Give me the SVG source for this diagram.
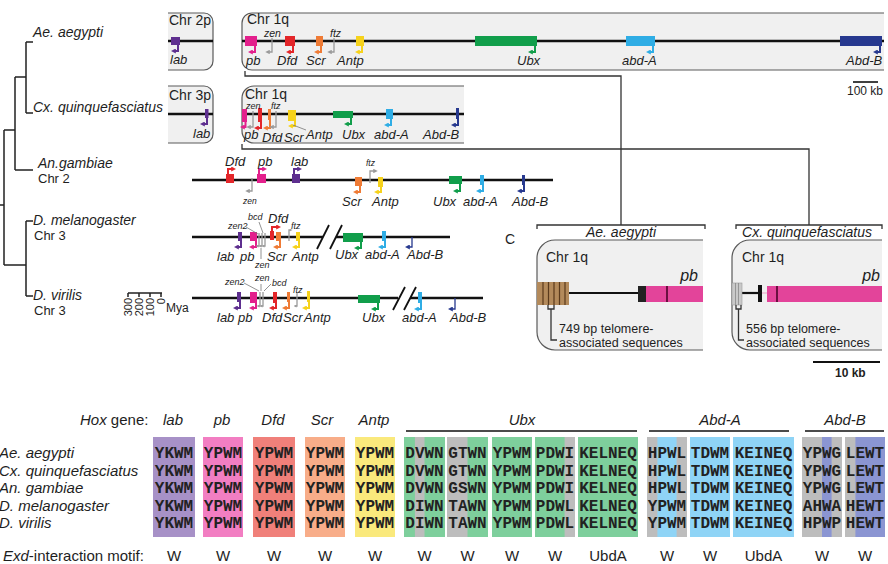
<svg xmlns="http://www.w3.org/2000/svg" width="888" height="564" viewBox="0 0 888 564">
<style>
text{font-family:"Liberation Sans",Arial,sans-serif;fill:#1e1e1e}
.sp{font-size:14px;font-style:italic}
.cl{font-size:14px}
.c13{font-size:13px}
.c12{font-size:12.5px}
.g{font-size:13px;font-style:italic}
.s11{font-size:10.5px;font-style:italic}
.s9{font-size:9px;font-style:italic}
.s8{font-size:8.5px;font-style:italic}
.chr{stroke:#111;stroke-width:2.6;fill:none}
.bf{fill:#f0f0f0}
.bl{fill:none;stroke:#5a5a5a;stroke-width:1.2}
.tree{stroke:#222;stroke-width:1.5;fill:none}
.cn{stroke:#333;stroke-width:1.3;fill:none}
.ld{stroke:#777;stroke-width:0.8;fill:none}
.ar{fill:none;stroke-width:2}
.th{fill:none;stroke-width:1.3}
.f-lab{fill:#5e2f8f}.f-pb{fill:#e3208c}.f-dfd{fill:#e3262a}.f-scr{fill:#ef7b35}.f-antp{fill:#f6d21c}.f-ubx{fill:#119e4b}.f-abda{fill:#2fade5}.f-abdb{fill:#27398f}
.a-lab{stroke:#5e2f8f;marker-end:url(#mlab)}
.a-pb{stroke:#e3208c;marker-end:url(#mpb)}
.a-dfd{stroke:#e3262a;marker-end:url(#mdfd)}
.a-scr{stroke:#ef7b35;marker-end:url(#mscr)}
.a-antp{stroke:#f6d21c;marker-end:url(#mantp)}
.a-ubx{stroke:#119e4b;marker-end:url(#mubx)}
.a-abda{stroke:#2fade5;marker-end:url(#mabda)}
.a-abdb{stroke:#27398f;marker-end:url(#mabdb)}
.a-gr{stroke:#9a9a9a;marker-end:url(#mgr)}
.a-gs{stroke:#9a9a9a;marker-end:url(#mgs)}
.seq{font-family:"Liberation Mono","Courier New",monospace;font-weight:bold;font-size:16px;fill:#222;text-anchor:middle}
.hd{font-size:15px;font-style:italic;text-anchor:middle}
.sl{font-size:15px;font-style:italic}
.mo{font-size:15px;text-anchor:middle}
.ol{stroke:#111;stroke-width:1.6}
</style>
<defs>
<marker id="mlab" viewBox="0 0 6 6" refX="1" refY="3" markerWidth="5" markerHeight="5" markerUnits="userSpaceOnUse" orient="auto"><path d="M0,0 L6,3 L0,6z" fill="#5e2f8f"/></marker>
<marker id="mpb" viewBox="0 0 6 6" refX="1" refY="3" markerWidth="5" markerHeight="5" markerUnits="userSpaceOnUse" orient="auto"><path d="M0,0 L6,3 L0,6z" fill="#e3208c"/></marker>
<marker id="mdfd" viewBox="0 0 6 6" refX="1" refY="3" markerWidth="5" markerHeight="5" markerUnits="userSpaceOnUse" orient="auto"><path d="M0,0 L6,3 L0,6z" fill="#e3262a"/></marker>
<marker id="mscr" viewBox="0 0 6 6" refX="1" refY="3" markerWidth="5" markerHeight="5" markerUnits="userSpaceOnUse" orient="auto"><path d="M0,0 L6,3 L0,6z" fill="#ef7b35"/></marker>
<marker id="mantp" viewBox="0 0 6 6" refX="1" refY="3" markerWidth="5" markerHeight="5" markerUnits="userSpaceOnUse" orient="auto"><path d="M0,0 L6,3 L0,6z" fill="#f6d21c"/></marker>
<marker id="mubx" viewBox="0 0 6 6" refX="1" refY="3" markerWidth="5" markerHeight="5" markerUnits="userSpaceOnUse" orient="auto"><path d="M0,0 L6,3 L0,6z" fill="#119e4b"/></marker>
<marker id="mabda" viewBox="0 0 6 6" refX="1" refY="3" markerWidth="5" markerHeight="5" markerUnits="userSpaceOnUse" orient="auto"><path d="M0,0 L6,3 L0,6z" fill="#2fade5"/></marker>
<marker id="mabdb" viewBox="0 0 6 6" refX="1" refY="3" markerWidth="5" markerHeight="5" markerUnits="userSpaceOnUse" orient="auto"><path d="M0,0 L6,3 L0,6z" fill="#27398f"/></marker>
<marker id="mgr" viewBox="0 0 6 6" refX="1" refY="3" markerWidth="4.5" markerHeight="4.5" markerUnits="userSpaceOnUse" orient="auto"><path d="M0,0 L6,3 L0,6z" fill="#9a9a9a"/></marker>
<marker id="mgs" viewBox="0 0 6 6" refX="1" refY="3" markerWidth="3" markerHeight="3" markerUnits="userSpaceOnUse" orient="auto"><path d="M0,0 L6,3 L0,6z" fill="#9a9a9a"/></marker>
</defs>

<!-- phylogeny -->
<g id="tree">
<path class="tree" d="M-1,205 H4 M4,130 V265 M4,130 H15 M15,77 V170 M15,77 H26 M26,42 V113 M26,42 H33 M26,113 H33 M15,170 H33 M4,265 H26 M26,221 V296 M26,221 H33 M26,296 H33"/>
<text class="sp" x="33" y="37">Ae. aegypti</text>
<text class="sp" x="33" y="112">Cx. quinquefasciatus</text>
<text class="sp" x="38" y="168">An.gambiae</text>
<text class="c13" x="38" y="183">Chr 2</text>
<text class="sp" x="33" y="225">D. melanogaster</text>
<text class="c13" x="34" y="240">Chr 3</text>
<text class="sp" x="33" y="300">D. virilis</text>
<text class="c13" x="34" y="315">Chr 3</text>
</g>
<g id="mya-scale">
<path class="tree" stroke-width="1.2" d="M128,293 H162 M128,293 V297 M139,293 V297 M150,293 V297 M161,293 V297"/>
<text font-size="11" text-anchor="end" transform="translate(132,298) rotate(-90)">300</text>
<text font-size="11" text-anchor="end" transform="translate(143,298) rotate(-90)">200</text>
<text font-size="11" text-anchor="end" transform="translate(154,298) rotate(-90)">100</text>
<text font-size="11" text-anchor="end" transform="translate(165,298) rotate(-90)">0</text>
<text font-size="12" x="166" y="312">Mya</text>
</g>

<!-- connectors -->
<g id="connectors">
<path class="cn" d="M245,71 V76 H621 V225"/>
<path class="cn" d="M242,144 V149 H809 V225"/>
<path class="cn" d="M537,229 V225 H705 V229"/>
<path class="cn" d="M736,229 V225 H882 V229"/>
</g>

<!-- Ae. aegypti -->
<g id="ae-chr2p">
<path class="bf" d="M168,13 H204 A9,9 0 0 1 213,22 V61 A9,9 0 0 1 204,70 H168 Z"/>
<path class="bl" d="M168,13 H204 A9,9 0 0 1 213,22 V61 A9,9 0 0 1 204,70 H168"/>
<text class="cl" x="169" y="25">Chr 2p</text>
<line class="chr" x1="168" y1="41" x2="213" y2="41"/>
<rect class="f-lab" x="171" y="37" width="9" height="8"/>
<path class="ar a-lab" d="M178,45 V51 H175"/>
<text class="g" x="170" y="64">lab</text>
</g>
<g id="ae-chr1q">
<path class="bf" d="M884,13 H252 A10,10 0 0 0 242,23 V60 A10,10 0 0 0 252,70 H884 Z"/>
<path class="bl" d="M884,13 H252 A10,10 0 0 0 242,23 V60 A10,10 0 0 0 252,70 H884"/>
<text class="cl" x="247" y="24">Chr 1q</text>
<line class="chr" x1="242" y1="41" x2="884" y2="41"/>
<rect class="f-pb" x="245" y="36" width="12" height="10"/>
<rect class="f-dfd" x="285" y="36" width="10" height="10"/>
<rect class="f-scr" x="316" y="36" width="7" height="10"/>
<rect class="f-antp" x="356" y="36" width="8" height="10"/>
<rect class="f-ubx" x="475" y="36" width="62" height="10"/>
<rect class="f-abda" x="626" y="36" width="29" height="10"/>
<rect class="f-abdb" x="840" y="36" width="42" height="10"/>
<path class="ar a-pb" d="M255,46 V52 H252"/>
<path class="th a-gr" d="M272,38 V52 H269"/>
<path class="ar a-dfd" d="M293,46 V52 H290"/>
<path class="ar a-scr" d="M321,46 V52 H318"/>
<path class="th a-gr" d="M334,38 V52 H331"/>
<path class="ar a-antp" d="M362,46 V52 H359"/>
<path class="ar a-ubx" d="M535,46 V52 H532"/>
<path class="ar a-abda" d="M653,46 V52 H650"/>
<path class="ar a-abdb" d="M880,46 V52 H877"/>
<text class="s11" x="264" y="36.5">zen</text>
<text class="s11" x="330" y="36.5">ftz</text>
<text class="g" x="246" y="65">pb</text>
<text class="g" x="277" y="65">Dfd</text>
<text class="g" x="306" y="65">Scr</text>
<text class="g" x="337" y="65">Antp</text>
<text class="g" x="517" y="65">Ubx</text>
<text class="g" x="622" y="65">abd-A</text>
<text class="g" x="846" y="65">Abd-B</text>
<line x1="853" y1="82" x2="878" y2="82" stroke="#111" stroke-width="1.6"/>
<text font-size="12" x="847" y="95">100 kb</text>
</g>

<!-- Cx. quinquefasciatus -->
<g id="cx-chr3p">
<path class="bf" d="M168,86 H204 A9,9 0 0 1 213,95 V134 A9,9 0 0 1 204,143 H168 Z"/>
<path class="bl" d="M168,86 H204 A9,9 0 0 1 213,95 V134 A9,9 0 0 1 204,143 H168"/>
<text class="cl" x="169" y="100">Chr 3p</text>
<line class="chr" x1="168" y1="114" x2="213" y2="114"/>
<rect class="f-lab" x="205" y="109" width="3.5" height="9"/>
<path class="ar a-lab" d="M207,118 V124 H204"/>
<text class="g" x="193" y="138">lab</text>
</g>
<g id="cx-chr1q">
<path class="bf" d="M464,86 H254 A12,12 0 0 0 242,98 V131 A12,12 0 0 0 254,143 H464 Z"/>
<path class="bl" d="M464,86 H254 A12,12 0 0 0 242,98 V131 A12,12 0 0 0 254,143 H464"/>
<text class="cl" x="245" y="98.5" font-size="13.5">Chr 1q</text>
<line class="chr" x1="242" y1="114" x2="464" y2="114"/>
<rect class="f-pb" x="242" y="109" width="5" height="13"/>
<rect class="f-dfd" x="258" y="108" width="4" height="14"/>
<rect class="f-scr" x="268" y="109" width="3" height="11"/>
<rect class="f-antp" x="288" y="110" width="8" height="11"/>
<rect class="f-ubx" x="333" y="111" width="20" height="7"/>
<rect class="f-abda" x="386" y="109" width="7" height="10"/>
<rect class="f-abdb" x="456" y="108" width="3" height="11"/>
<path class="ar a-pb" d="M245.5,122 V127 H244"/>
<path class="th a-gr" d="M253,111 V127 H250"/>
<path class="ar a-dfd" d="M261,122 V128 H258"/>
<path class="ar a-scr" d="M270,120 V128 H267"/>
<path class="th a-gr" d="M276,111 V127 H273"/>
<path class="ar a-antp" d="M295,121 V126 H292"/>
<path class="ld" d="M293,125 L306,130"/>
<path class="ar a-ubx" d="M351,118 V124 H348"/>
<path class="ar a-abda" d="M391,119 V125 H388"/>
<path class="ar a-abdb" d="M458,119 V125 H455"/>
<text class="s9" x="246" y="109">zen</text>
<text class="s9" x="271" y="109">ftz</text>
<text class="g" x="244" y="139">pb</text>
<text class="g" x="262" y="142">Dfd</text>
<text class="g" x="284" y="142">Scr</text>
<text class="g" x="306" y="139">Antp</text>
<text class="g" x="342" y="139">Ubx</text>
<text class="g" x="374" y="139">abd-A</text>
<text class="g" x="423" y="139">Abd-B</text>
</g>

<!-- An. gambiae -->
<g id="an-chr2">
<line class="chr" x1="192" y1="180" x2="553" y2="180"/>
<rect class="f-dfd" x="226" y="174" width="8" height="9"/>
<rect class="f-pb" x="257" y="174" width="9" height="9"/>
<rect class="f-lab" x="292" y="174" width="8" height="9"/>
<rect class="f-scr" x="355" y="177" width="7" height="9"/>
<rect class="f-antp" x="378" y="177" width="5" height="10"/>
<rect class="f-ubx" x="449" y="176" width="13" height="8"/>
<rect class="f-abda" x="480" y="175" width="4" height="10"/>
<rect class="f-abdb" x="522" y="175" width="3" height="10"/>
<path class="ar a-dfd" d="M228,174 V169 H232"/>
<path class="th a-gr" d="M252,178 V191 H249"/>
<path class="ar a-pb" d="M259,174 V169 H263"/>
<path class="ar a-lab" d="M294,174 V169 H298"/>
<path class="ar a-scr" d="M360,186 V192 H357"/>
<path class="th a-gr" d="M370,183 V171 H374"/>
<path class="ar a-antp" d="M381,187 V192 H378"/>
<path class="ar a-ubx" d="M460,184 V191 H457"/>
<path class="ar a-abda" d="M483,185 V191 H480"/>
<path class="ar a-abdb" d="M524,185 V191 H521"/>
<text class="g" x="225" y="166">Dfd</text>
<text class="g" x="258" y="166">pb</text>
<text class="g" x="291" y="166">lab</text>
<text class="s8" x="243" y="204">zen</text>
<text class="s8" x="366" y="166">ftz</text>
<text class="g" x="342" y="206">Scr</text>
<text class="g" x="372" y="206">Antp</text>
<text class="g" x="433" y="206">Ubx</text>
<text class="g" x="463" y="206">abd-A</text>
<text class="g" x="512" y="206">Abd-B</text>
</g>

<!-- D. melanogaster -->
<g id="dmel-chr3">
<path class="chr" d="M192,237 H323 M336,237 H450"/>
<path stroke="#111" stroke-width="1.8" fill="none" d="M317,249 L329,225 M330,249 L342,225"/>
<rect class="f-lab" x="238" y="232" width="4" height="9"/>
<rect class="f-pb" x="250" y="232" width="7" height="9"/>
<rect class="f-dfd" x="270" y="231" width="4" height="9"/>
<rect class="f-scr" x="276" y="232" width="5" height="9"/>
<rect class="f-antp" x="296" y="232" width="4" height="9"/>
<rect class="f-ubx" x="343" y="233" width="20" height="9"/>
<rect class="f-abda" x="382" y="231" width="4" height="10"/>
<path class="ar a-lab" d="M241,241 V247 H238"/>
<path class="ar a-pb" d="M256,241 V247 H253"/>
<path class="th a-gs" stroke-width="1" d="M259,233 V246 H258"/>
<path class="th a-gs" stroke-width="1" d="M262,233 V246 H261"/>
<path class="th a-gs" stroke-width="1" d="M265,233 V246 H264"/>
<path class="ar a-dfd" d="M272,231 V227 H277"/>
<path class="ar a-scr" d="M280,241 V247 H277"/>
<path class="th a-gs" stroke-width="1" d="M289,241 V230 H290"/>
<path class="ar a-antp" d="M299,241 V247 H296"/>
<path class="ar a-ubx" d="M361,242 V248 H358"/>
<path class="ar a-abda" d="M385,241 V247 H382"/>
<path class="th a-abdb" stroke-width="1.5" d="M412,237 V247 H409"/>
<path class="ld" d="M246,227 L258,234 M259,222 L263,233 M261,259 V248"/>
<text class="s9" x="228" y="229">zen2</text>
<text class="s9" x="248" y="220">bcd</text>
<text class="s9" x="255" y="268">zen</text>
<text class="s9" x="291" y="229">ftz</text>
<text class="g" x="268" y="223">Dfd</text>
<text class="g" x="217" y="261">lab</text>
<text class="g" x="240" y="261">pb</text>
<text class="g" x="267" y="261">Scr</text>
<text class="g" x="292" y="261">Antp</text>
<text class="g" x="335" y="259">Ubx</text>
<text class="g" x="365" y="259">abd-A</text>
<text class="g" x="407" y="259">Abd-B</text>
</g>

<!-- D. virilis -->
<g id="dvir-chr3">
<path class="chr" d="M192,298 H398 M410,298 H483"/>
<path stroke="#111" stroke-width="1.8" fill="none" d="M393,310 L405,287 M404,310 L416,287"/>
<rect class="f-lab" x="237" y="292" width="4" height="10"/>
<rect class="f-pb" x="250" y="292" width="7" height="11"/>
<rect class="f-dfd" x="273" y="292" width="4" height="11"/>
<rect class="f-scr" x="287" y="292" width="3" height="10"/>
<rect class="f-antp" x="307" y="291" width="3" height="11"/>
<rect class="f-ubx" x="358" y="295" width="22" height="8"/>
<rect class="f-abda" x="418" y="292" width="4" height="11"/>
<path class="ar a-lab" d="M240,302 V308 H237"/>
<path class="ar a-pb" d="M256,303 V308 H253"/>
<path class="th a-gs" stroke-width="1" d="M260,292 V306 H259"/>
<path class="th a-gs" stroke-width="1" d="M263,292 V306 H262"/>
<path class="ar a-dfd" d="M276,303 V308 H273"/>
<path class="ar a-scr" d="M289,302 V308 H286"/>
<path class="th a-gs" stroke-width="1" d="M297,292 V306 H296"/>
<path class="ar a-antp" d="M309,302 V308 H306"/>
<path class="ar a-ubx" d="M378,303 V309 H375"/>
<path class="ar a-abda" d="M421,303 V309 H418"/>
<path class="th a-abdb" stroke-width="1.5" d="M455,298 V309 H452"/>
<path class="ld" d="M244,283 L259,291 M261,284 L261,291 M271,284 L264,291"/>
<text class="s9" x="225" y="285">zen2</text>
<text class="s9" x="255" y="281">zen</text>
<text class="s9" x="272" y="286">bcd</text>
<text class="s9" x="293" y="293">ftz</text>
<text class="g" x="217" y="322">lab</text>
<text class="g" x="238" y="322">pb</text>
<text class="g" x="262" y="322">Dfd</text>
<text class="g" x="283" y="322">Scr</text>
<text class="g" x="304" y="322">Antp</text>
<text class="g" x="362" y="322">Ubx</text>
<text class="g" x="402" y="322">abd-A</text>
<text class="g" x="450" y="322">Abd-B</text>
</g>

<!-- Panel C -->
<text font-size="14" x="505" y="244">C</text>
<g id="c-ae">
<text class="sp" x="621" y="237" text-anchor="middle">Ae. aegypti</text>
<path class="bf" d="M703,240 H555 A18,18 0 0 0 537,258 V332 A18,18 0 0 0 555,350 H703 Z"/>
<path class="bl" d="M703,240 H555 A18,18 0 0 0 537,258 V332 A18,18 0 0 0 555,350 H703"/>
<text class="cl" x="546" y="262">Chr 1q</text>
<text x="698" y="281" font-size="16" font-style="italic" text-anchor="end">pb</text>
<line x1="569" y1="293" x2="639" y2="293" stroke="#111" stroke-width="2.2"/>
<rect x="537" y="282" width="32" height="23" fill="#b38a5b"/>
<path stroke="#5a3a1c" stroke-width="1.2" d="M543,282 V305 M548.5,282 V305 M554,282 V305 M559.5,282 V305 M565,282 V305"/>
<rect x="638" y="286" width="8" height="16" fill="#222"/>
<rect x="646" y="286" width="57" height="16" fill="#e3449a"/>
<line x1="667" y1="286" x2="667" y2="302" stroke="#6a1040" stroke-width="2"/>
<path class="cn" stroke-width="1" d="M548,305 V309 H554 V305 M551,309 V340 H557"/>
<text class="c12" x="559" y="332.5">749 bp telomere-</text>
<text class="c12" x="559" y="347">associated sequences</text>
</g>
<g id="c-cx">
<text class="sp" x="807" y="237" text-anchor="middle">Cx. quinquefasciatus</text>
<path class="bf" d="M882,240 H750 A18,18 0 0 0 732,258 V332 A18,18 0 0 0 750,350 H882 Z"/>
<path class="bl" d="M882,240 H750 A18,18 0 0 0 732,258 V332 A18,18 0 0 0 750,350 H882"/>
<text class="cl" x="742" y="262">Chr 1q</text>
<text x="880" y="281" font-size="16" font-style="italic" text-anchor="end">pb</text>
<line x1="742" y1="293" x2="759" y2="293" stroke="#111" stroke-width="2.2"/>
<line x1="762" y1="293" x2="767" y2="293" stroke="#e9a0c6" stroke-width="1"/>
<rect x="732" y="283" width="10" height="22" fill="#c9c9c9" stroke="#999" stroke-width="0.6"/>
<path stroke="#888" stroke-width="0.8" d="M735.5,283 V305 M738.5,283 V305"/>
<rect x="758" y="285" width="4" height="17" fill="#111"/>
<rect x="767" y="286" width="115" height="16" fill="#e3449a"/>
<line x1="777" y1="286" x2="777" y2="302" stroke="#6a1040" stroke-width="2"/>
<path class="cn" stroke-width="1" d="M736,305 V309 H741 V305 M738.5,309 V340 H744"/>
<text class="c12" x="746" y="332.5">556 bp telomere-</text>
<text class="c12" x="746" y="347">associated sequences</text>
<line x1="813" y1="362" x2="880" y2="362" stroke="#111" stroke-width="2"/>
<text font-size="12" font-weight="bold" x="835" y="377">10 kb</text>
</g>

<!-- Alignment -->
<g id="alignment">
<text x="80" y="425" font-size="15"><tspan font-style="italic">Hox</tspan> gene:</text>
<text class="hd" x="173" y="425">lab</text>
<text class="hd" x="222" y="425">pb</text>
<text class="hd" x="273" y="425">Dfd</text>
<text class="hd" x="322" y="425">Scr</text>
<text class="hd" x="374" y="425">Antp</text>
<text class="hd" x="522" y="425">Ubx</text>
<text class="hd" x="720" y="425">Abd-A</text>
<text class="hd" x="845" y="425">Abd-B</text>
<path class="ol" d="M406,431 H637 M649,431 H789 M805,431 H884"/>

<rect x="153" y="437" width="42" height="100" fill="#a791c7"/>
<rect x="203" y="437" width="40" height="100" fill="#f27ec2"/>
<rect x="253" y="437" width="42" height="100" fill="#f0807a"/>
<rect x="305" y="437" width="40" height="100" fill="#f8ad89"/>
<rect x="355" y="437" width="40" height="100" fill="#fae97c"/>
<rect x="404" y="437" width="41" height="100" fill="#7ecf9c"/>
<rect x="447" y="437" width="41" height="100" fill="#7ecf9c"/>
<rect x="492" y="437" width="40" height="100" fill="#7ecf9c"/>
<rect x="535" y="437" width="40" height="100" fill="#7ecf9c"/>
<rect x="578" y="437" width="60" height="100" fill="#7ecf9c"/>
<rect x="647" y="437" width="40" height="100" fill="#8fd4f6"/>
<rect x="690" y="437" width="40" height="100" fill="#8fd4f6"/>
<rect x="733" y="437" width="61" height="100" fill="#8fd4f6"/>
<rect x="802" y="437" width="40" height="100" fill="#8b95d2"/>
<rect x="845" y="437" width="40" height="100" fill="#8b95d2"/>
<g fill="#bdbdbd">
<rect x="414.9" y="437" width="9.6" height="100"/>
<rect x="447" y="437" width="20.5" height="100"/>
<rect x="564.6" y="437" width="10.4" height="100"/>
<rect x="647" y="437" width="10.4" height="100"/>
<rect x="676.6" y="437" width="10.4" height="100"/>
<rect x="802" y="437" width="20" height="100"/>
<rect x="831.6" y="437" width="10.4" height="100"/>
<rect x="845" y="437" width="10.4" height="100"/>
</g>

<text class="sl" x="-1" y="458">Ae. aegypti</text>
<text class="sl" x="-1" y="475.5">Cx. quinquefasciatus</text>
<text class="sl" x="-1" y="493">An. gambiae</text>
<text class="sl" x="-1" y="510.5">D. melanogaster</text>
<text class="sl" x="-1" y="528">D. virilis</text>

<g class="seq">
<text class="seq" x="174" y="458">YKWM</text><text class="seq" x="174" y="475.5">YKWM</text><text class="seq" x="174" y="493">YKWM</text><text class="seq" x="174" y="510.5">YKWM</text><text class="seq" x="174" y="528">YKWM</text>
<text class="seq" x="223" y="458">YPWM</text><text class="seq" x="223" y="475.5">YPWM</text><text class="seq" x="223" y="493">YPWM</text><text class="seq" x="223" y="510.5">YPWM</text><text class="seq" x="223" y="528">YPWM</text>
<text class="seq" x="274" y="458">YPWM</text><text class="seq" x="274" y="475.5">YPWM</text><text class="seq" x="274" y="493">YPWM</text><text class="seq" x="274" y="510.5">YPWM</text><text class="seq" x="274" y="528">YPWM</text>
<text class="seq" x="325" y="458">YPWM</text><text class="seq" x="325" y="475.5">YPWM</text><text class="seq" x="325" y="493">YPWM</text><text class="seq" x="325" y="510.5">YPWM</text><text class="seq" x="325" y="528">YPWM</text>
<text class="seq" x="375" y="458">YPWM</text><text class="seq" x="375" y="475.5">YPWM</text><text class="seq" x="375" y="493">YPWM</text><text class="seq" x="375" y="510.5">YPWM</text><text class="seq" x="375" y="528">YPWM</text>
<text class="seq" x="424.5" y="458">DVWN</text><text class="seq" x="424.5" y="475.5">DVWN</text><text class="seq" x="424.5" y="493">DVWN</text><text class="seq" x="424.5" y="510.5">DIWN</text><text class="seq" x="424.5" y="528">DIWN</text>
<text class="seq" x="467.5" y="458">GTWN</text><text class="seq" x="467.5" y="475.5">GTWN</text><text class="seq" x="467.5" y="493">GSWN</text><text class="seq" x="467.5" y="510.5">TAWN</text><text class="seq" x="467.5" y="528">TAWN</text>
<text class="seq" x="512" y="458">YPWM</text><text class="seq" x="512" y="475.5">YPWM</text><text class="seq" x="512" y="493">YPWM</text><text class="seq" x="512" y="510.5">YPWM</text><text class="seq" x="512" y="528">YPWM</text>
<text class="seq" x="555" y="458">PDWI</text><text class="seq" x="555" y="475.5">PDWI</text><text class="seq" x="555" y="493">PDWI</text><text class="seq" x="555" y="510.5">PDWL</text><text class="seq" x="555" y="528">PDWL</text>
<text class="seq" x="608" y="458">KELNEQ</text><text class="seq" x="608" y="475.5">KELNEQ</text><text class="seq" x="608" y="493">KELNEQ</text><text class="seq" x="608" y="510.5">KELNEQ</text><text class="seq" x="608" y="528">KELNEQ</text>
<text class="seq" x="667" y="458">HPWL</text><text class="seq" x="667" y="475.5">HPWL</text><text class="seq" x="667" y="493">HPWL</text><text class="seq" x="667" y="510.5">YPWM</text><text class="seq" x="667" y="528">YPWM</text>
<text class="seq" x="710" y="458">TDWM</text><text class="seq" x="710" y="475.5">TDWM</text><text class="seq" x="710" y="493">TDWM</text><text class="seq" x="710" y="510.5">TDWM</text><text class="seq" x="710" y="528">TDWM</text>
<text class="seq" x="763.5" y="458">KEINEQ</text><text class="seq" x="763.5" y="475.5">KEINEQ</text><text class="seq" x="763.5" y="493">KEINEQ</text><text class="seq" x="763.5" y="510.5">KEINEQ</text><text class="seq" x="763.5" y="528">KEINEQ</text>
<text class="seq" x="822" y="458">YPWG</text><text class="seq" x="822" y="475.5">YPWG</text><text class="seq" x="822" y="493">YPWG</text><text class="seq" x="822" y="510.5">AHWA</text><text class="seq" x="822" y="528">HPWP</text>
<text class="seq" x="865" y="458">LEWT</text><text class="seq" x="865" y="475.5">LEWT</text><text class="seq" x="865" y="493">LEWT</text><text class="seq" x="865" y="510.5">HEWT</text><text class="seq" x="865" y="528">HEWT</text>
</g>

<text x="3" y="561" font-size="15"><tspan font-style="italic">Exd</tspan>-interaction motif:</text>
<text class="mo" x="174" y="561">W</text>
<text class="mo" x="223" y="561">W</text>
<text class="mo" x="274" y="561">W</text>
<text class="mo" x="325" y="561">W</text>
<text class="mo" x="375" y="561">W</text>
<text class="mo" x="424.5" y="561">W</text>
<text class="mo" x="467.5" y="561">W</text>
<text class="mo" x="512" y="561">W</text>
<text class="mo" x="555" y="561">W</text>
<text class="mo" x="608" y="561">UbdA</text>
<text class="mo" x="667" y="561">W</text>
<text class="mo" x="710" y="561">W</text>
<text class="mo" x="763.5" y="561">UbdA</text>
<text class="mo" x="822" y="561">W</text>
<text class="mo" x="865" y="561">W</text>
</g>
</svg>
